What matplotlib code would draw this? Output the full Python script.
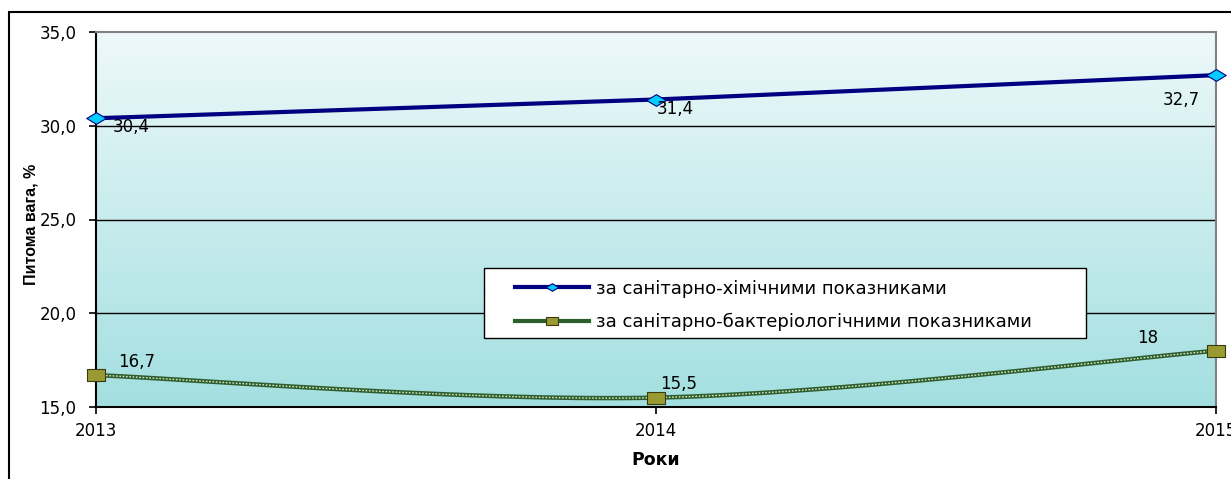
import numpy as np
import matplotlib
matplotlib.use('Agg')
import matplotlib.pyplot as plt
from matplotlib.patches import Rectangle
from matplotlib.path import Path

plt.rcParams['font.family'] = ['DejaVu Sans']

years = [2013, 2014, 2015]
chem = [30.4, 31.4, 32.7]
bact = [16.7, 15.5, 18.0]
chem_labels = ['30,4', '31,4', '32,7']
bact_labels = ['16,7', '15,5', '18']
yticks = [15, 20, 25, 30, 35]
ytick_labels = ['15,0', '20,0', '25,0', '30,0', '35,0']
legend_names = ['за санітарно-хімічними показниками',
                'за санітарно-бактеріологічними показниками']


def catmull(xs, ys, n=60):
    # smoothed line like Excel's "smooth line" option
    p = np.column_stack([xs, ys]).astype(float)
    p = np.vstack([p[0], p, p[-1]])
    out = []
    for i in range(1, len(p) - 2):
        p0, p1, p2, p3 = p[i - 1], p[i], p[i + 1], p[i + 2]
        t = np.linspace(0, 1, n)[:, None]
        c = 0.5 * ((2 * p1) + (-p0 + p2) * t + (2 * p0 - 5 * p1 + 4 * p2 - p3) * t ** 2
                   + (-p0 + 3 * p1 - 3 * p2 + p3) * t ** 3)
        out.append(c)
    c = np.vstack(out)
    return c[:, 0], c[:, 1]


fs = 12

fig = plt.figure(figsize=(12.31, 4.79), dpi=100)
ax = fig.add_axes([96 / 1231, 1 - 407 / 479, 1120 / 1231, 375 / 479])

# gradient background, light at top
grad = np.linspace(0, 1, 256)[:, None]
top = np.array([0.93, 0.975, 0.98])
bot = np.array([0.64, 0.875, 0.88])
img = top + (bot - top) * grad[:, :, None]
ax.imshow(img, extent=[2013, 2015, 15, 35], aspect='auto', zorder=0)

ax.set_xlim(2013, 2015)
ax.set_ylim(15, 35)

for y in [20, 25, 30]:
    ax.axhline(y, color='black', lw=1, zorder=1)

diamond = Path([(-1, 0), (0, 0.6), (1, 0), (0, -0.6), (-1, 0)],
               [Path.MOVETO, Path.LINETO, Path.LINETO, Path.LINETO, Path.CLOSEPOLY])
rect = Path([(-1, -0.65), (1, -0.65), (1, 0.65), (-1, 0.65), (-1, -0.65)],
            [Path.MOVETO, Path.LINETO, Path.LINETO, Path.LINETO, Path.CLOSEPOLY])

ax.plot(years, chem, color='#000080', lw=3, zorder=3, clip_on=False)
ax.plot(years, chem, ls='none', marker=diamond, ms=14, mfc='#00ccff',
        mec='#000080', mew=0.8, zorder=4, clip_on=False)

sx, sy = catmull(years, bact)
ax.plot(sx, sy, color='#2e5e2e', lw=3.2, zorder=3, clip_on=False)
ax.plot(sx, sy, color='#d8e8c8', lw=1.0, ls=(0, (1.2, 1.2)), zorder=3, clip_on=False)
ax.plot(years, bact, ls='none', marker=rect, ms=13.5, mfc='#9a9a33',
        mec='#3a3a10', mew=0.8, zorder=4, clip_on=False)

# data labels
chem_off = [(17, -9, 'left'), (1, -10, 'left'), (-16, -25, 'right')]
bact_off = [(22, 13, 'left'), (4, 14, 'left'), (-58, 13, 'right')]
for x, y, s, (dx, dy, ha) in zip(years, chem, chem_labels, chem_off):
    ax.annotate(s, (x, y), xytext=(dx, dy), textcoords='offset pixels',
                ha=ha, va='center', fontsize=fs, zorder=5, annotation_clip=False)
for x, y, s, (dx, dy, ha) in zip(years, bact, bact_labels, bact_off):
    ax.annotate(s, (x, y), xytext=(dx, dy), textcoords='offset pixels',
                ha=ha, va='center', fontsize=fs, zorder=5, annotation_clip=False)

ax.set_yticks(yticks)
ax.set_yticklabels(ytick_labels)
ax.set_xticks(years)
ax.set_xticklabels([str(y) for y in years])
ax.tick_params(axis='both', direction='out', length=5, width=1.2, labelsize=fs,
               colors='black')
ax.tick_params(axis='y', pad=9)
ax.tick_params(axis='x', pad=6)

for side in ['top', 'right']:
    ax.spines[side].set_color('#808080')
    ax.spines[side].set_linewidth(1.5)
for side in ['left', 'bottom']:
    ax.spines[side].set_color('black')
    ax.spines[side].set_linewidth(1.5)

ax.set_xlabel('Роки', fontsize=12.5, fontweight='bold', labelpad=8)
fig.text(31 / 1231, 1 - 224 / 479, 'Питома вага, %', rotation=90, ha='center',
         va='center', fontsize=11.5, fontweight='bold',
         family=['Liberation Sans', 'DejaVu Sans'])

# legend box drawn separately, entries placed inside it
ax.add_patch(Rectangle((0.3464, 0.184), 0.5375, 0.1867, transform=ax.transAxes,
                       facecolor='white', edgecolor='black', lw=1, zorder=6))
h1, = ax.plot([], [], color='#000080', lw=3, marker=diamond, ms=9,
              mfc='#00ccff', mec='#000080', mew=0.8)
h2, = ax.plot([], [], color='#2e5e2e', lw=3, marker=rect, ms=9,
              mfc='#9a9a33', mec='#3a3a10', mew=0.8)
leg = ax.legend([h1, h2], legend_names, loc='upper left',
                bbox_to_anchor=(0.374, 0.340), fontsize=13, frameon=False,
                borderpad=0, borderaxespad=0, handlelength=4.1,
                handletextpad=0.4, labelspacing=0.85)
leg.set_zorder(7)

fig.patches.append(Rectangle((9 / 1231, -0.1), 1.2, 1 - 12 / 479 + 0.1,
                             transform=fig.transFigure, fill=False,
                             edgecolor='black', lw=1.5))

fig.savefig('out.png', dpi=100)
